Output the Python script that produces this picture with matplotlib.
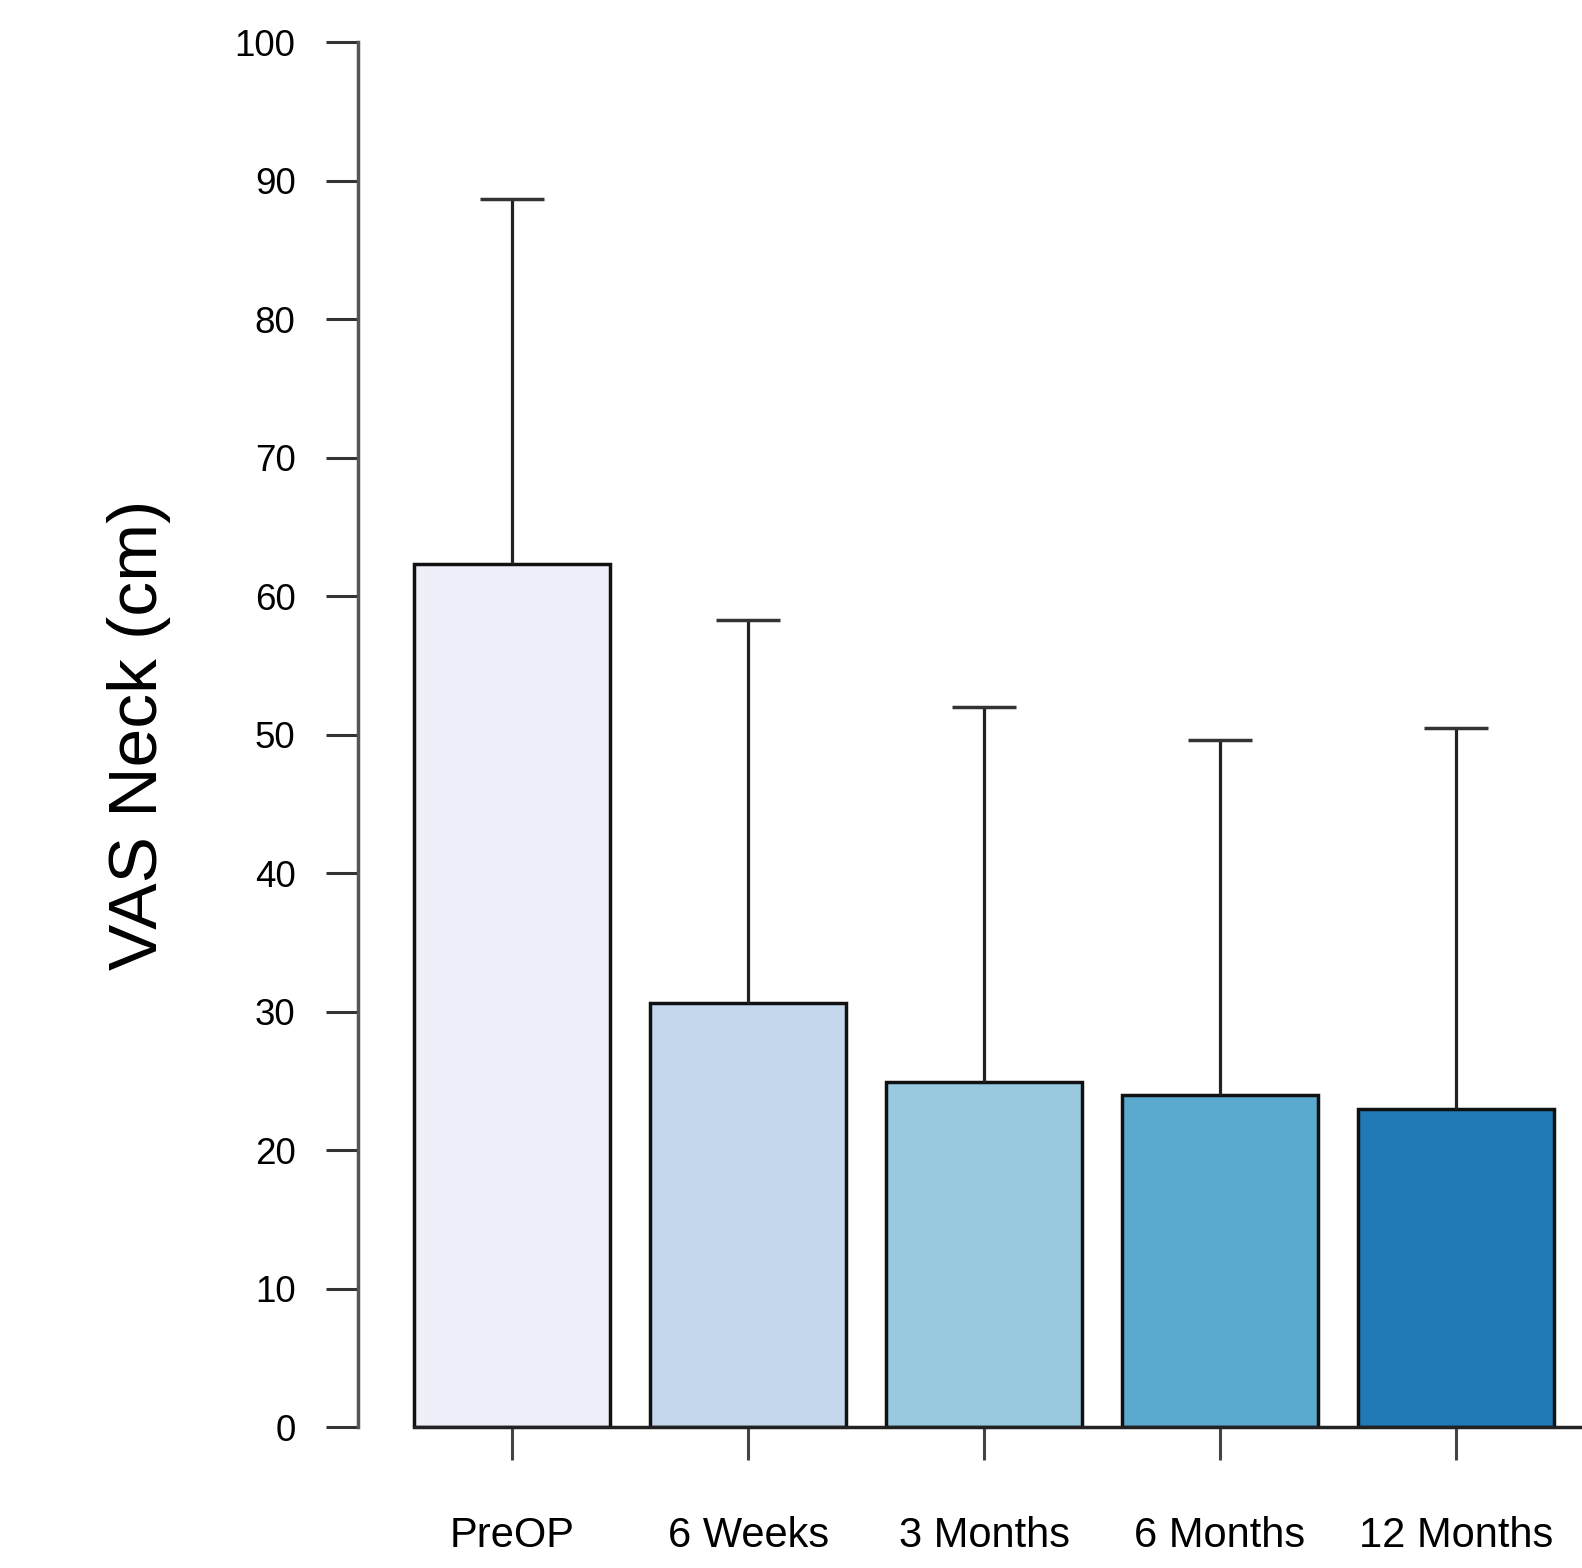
import matplotlib
matplotlib.use("Agg")
import matplotlib.pyplot as plt
import numpy as np

plt.rcParams["font.family"] = ["Liberation Sans", "DejaVu Sans"]

# follow-up visits, mean VAS neck score and standard deviation
visits = ["PreOP", "6 Weeks", "3 Months", "6 Months", "12 Months"]
means = [62.3, 30.6, 24.9, 24.0, 23.0]
sds = [26.4, 27.7, 27.1, 25.6, 27.5]
colors = ["#EEEFF8", "#C4D7EC", "#98C9DF", "#5CA9D0", "#1F7AB7"]

BAR_W = 1 / 1.2
CAP_HALF = 0.136

fig = plt.figure(figsize=(15.82, 15.68), dpi=100)
ax = fig.add_axes([0.2263, 0.0899, 0.7737, 0.8831])

x = np.arange(len(visits))
ax.bar(x, means, width=BAR_W, color=colors, edgecolor="#111111", linewidth=2.5, zorder=2)

upper = np.array(means) + np.array(sds)
ax.vlines(x, means, upper, color="#222222", linewidth=2.3, zorder=3)
ax.hlines(upper, x - CAP_HALF, x + CAP_HALF, color="#333333", linewidth=2.5, zorder=3)

ax.set_xlim(-0.653, 4.534)
ax.set_ylim(0, 100)

ax.spines["top"].set_visible(False)
ax.spines["right"].set_visible(False)
ax.spines["left"].set_bounds(0, 100)
ax.spines["left"].set_color("#555555")
ax.spines["left"].set_linewidth(2.5)
ax.spines["bottom"].set_bounds(-BAR_W / 2, 4.534)
ax.spines["bottom"].set_color("#222222")
ax.spines["bottom"].set_linewidth(2.5)

ax.set_yticks(np.arange(0, 101, 10))
ax.tick_params(axis="y", direction="out", length=23, width=2.2, color="#333333",
               pad=22, labelsize=26.5)
ax.set_xticks(x)
ax.set_xticklabels(visits)
ax.tick_params(axis="x", direction="out", length=24, width=2.2, color="#444444",
               pad=40, labelsize=30)

ax.set_ylabel("VAS Neck (cm)", fontsize=50, labelpad=46)

fig.savefig("out.png", dpi=100)
